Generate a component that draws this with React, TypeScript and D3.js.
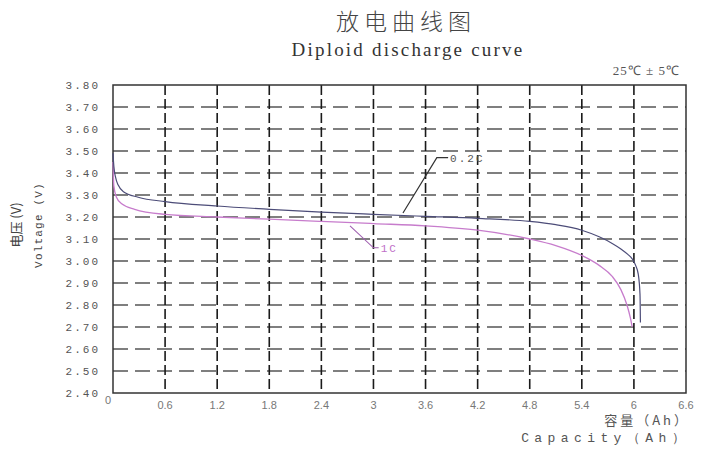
import React, { useEffect, useRef } from 'react';
import * as d3 from 'd3';

// capacity (Ah) / voltage (V)
const cap02 = [0, 0.01, 0.03, 0.06, 0.12, 0.29, 0.6, 1.2, 1.8, 2.4, 3.0, 3.6, 4.2, 4.8, 5.1, 5.4, 5.6, 5.75, 5.85, 5.93, 5.98, 6.02, 6.05, 6.07, 6.075];
const volt02 = [3.49, 3.43, 3.38, 3.345, 3.315, 3.29, 3.27, 3.25, 3.235, 3.222, 3.212, 3.203, 3.194, 3.18, 3.165, 3.14, 3.11, 3.08, 3.055, 3.03, 3.01, 2.98, 2.94, 2.85, 2.72];

const cap1C = [0, 0.01, 0.04, 0.1, 0.25, 0.6, 1.2, 1.8, 2.4, 3.0, 3.6, 4.2, 4.8, 5.1, 5.4, 5.6, 5.75, 5.85, 5.92, 5.96, 5.98];
const volt1C = [3.45, 3.34, 3.29, 3.26, 3.235, 3.212, 3.2, 3.19, 3.18, 3.17, 3.16, 3.14, 3.1, 3.07, 3.025, 2.98, 2.93, 2.87, 2.8, 2.74, 2.7];

const xTicks = [0.6, 1.2, 1.8, 2.4, 3, 3.6, 4.2, 4.8, 5.4, 6, 6.6];
const xTickLabels = ['0.6', '1.2', '1.8', '2.4', '3', '3.6', '4.2', '4.8', '5.4', '6', '6.6'];
const yTicks = [2.4, 2.5, 2.6, 2.7, 2.8, 2.9, 3.0, 3.1, 3.2, 3.3, 3.4, 3.5, 3.6, 3.7, 3.8];

// leader lines for the curve labels, in data units [cap, volt]
const label02 = [[3.34, 3.218], [3.73, 3.47], [3.86, 3.47]];
const label1C = [[2.73, 3.16], [3.0, 3.06], [3.06, 3.06]];

const W = 707;
const H = 450;
const margin = { top: 85, right: 21, bottom: 57, left: 113 };

const C02 = '#4c4c78';
const C1C = '#c77ccc';

export default function App() {
  const svgRef = useRef<SVGSVGElement>(null);

  useEffect(() => {
    if (!svgRef.current) return;
    const svg = d3.select(svgRef.current);
    svg.selectAll('*').remove();

    const x = d3.scaleLinear().domain([0, 6.6]).range([margin.left, W - margin.right]);
    const y = d3.scaleLinear().domain([2.4, 3.8]).range([H - margin.bottom, margin.top]);

    svg.append('rect').attr('width', W).attr('height', H).attr('fill', '#fff');

    // titles
    svg.append('text')
      .attr('x', 406).attr('y', 30)
      .attr('text-anchor', 'middle')
      .attr('font-family', '"Noto Sans CJK SC"')
      .attr('font-size', 23)
      .attr('font-weight', 300)
      .attr('letter-spacing', 5)
      .attr('fill', '#444')
      .text('放电曲线图');
    svg.append('text')
      .attr('x', 408).attr('y', 56)
      .attr('text-anchor', 'middle')
      .attr('font-family', '"Liberation Serif"')
      .attr('font-size', 19)
      .attr('letter-spacing', 2.2)
      .attr('fill', '#333')
      .text('Diploid discharge curve');
    svg.append('text')
      .attr('x', 680).attr('y', 75)
      .attr('text-anchor', 'end')
      .attr('font-family', '"Liberation Serif"')
      .attr('font-size', 13)
      .attr('letter-spacing', 1)
      .attr('fill', '#555')
      .text('25℃ ± 5℃');

    // grid
    svg.append('g')
      .selectAll('line')
      .data(yTicks.slice(1, -1))
      .join('line')
      .attr('x1', x(0)).attr('x2', x(6.6))
      .attr('y1', d => y(d)).attr('y2', d => y(d))
      .attr('stroke', '#555')
      .attr('stroke-width', 1.3)
      .attr('stroke-dasharray', '15,7');

    svg.append('g')
      .selectAll('line')
      .data(xTicks.slice(0, -1))
      .join('line')
      .attr('x1', d => x(d)).attr('x2', d => x(d))
      .attr('y1', y(3.8)).attr('y2', y(2.4))
      .attr('stroke', '#1a1a1a')
      .attr('stroke-width', 1.6)
      .attr('stroke-dasharray', '10,4');

    svg.append('rect')
      .attr('x', x(0)).attr('y', y(3.8))
      .attr('width', x(6.6) - x(0)).attr('height', y(2.4) - y(3.8))
      .attr('fill', 'none')
      .attr('stroke', '#333')
      .attr('stroke-width', 1.5);

    // axis tick labels
    svg.append('g')
      .selectAll('text')
      .data(yTicks)
      .join('text')
      .attr('x', 100)
      .attr('y', d => y(d) + 4)
      .attr('text-anchor', 'end')
      .attr('font-family', '"Liberation Mono"')
      .attr('font-size', 11)
      .attr('letter-spacing', 2)
      .attr('fill', '#555')
      .text(d => d.toFixed(2));

    svg.append('text')
      .attr('x', x(0) - 5).attr('y', 404)
      .attr('text-anchor', 'middle')
      .attr('font-family', '"Liberation Sans"')
      .attr('font-size', 11)
      .attr('fill', '#777')
      .text('0');

    svg.append('g')
      .selectAll('text')
      .data(xTicks)
      .join('text')
      .attr('x', d => x(d))
      .attr('y', 409)
      .attr('text-anchor', 'middle')
      .attr('font-family', '"Liberation Sans"')
      .attr('font-size', 11)
      .attr('fill', '#777')
      .text((d, i) => xTickLabels[i]);

    // axis titles
    svg.append('text')
      .attr('transform', 'translate(21,225) rotate(-90)')
      .attr('text-anchor', 'middle')
      .attr('font-family', '"Noto Sans CJK SC"')
      .attr('font-size', 13)
      .attr('fill', '#444')
      .text('电压 (V)');
    svg.append('text')
      .attr('transform', 'translate(42,225) rotate(-90)')
      .attr('text-anchor', 'middle')
      .attr('font-family', '"Liberation Mono"')
      .attr('font-size', 11)
      .attr('letter-spacing', 1.2)
      .attr('fill', '#444')
      .text('Voltage (V)');

    svg.append('text')
      .attr('x', 690).attr('y', 425)
      .attr('text-anchor', 'end')
      .attr('font-family', '"Noto Sans CJK SC"')
      .attr('font-size', 13)
      .attr('letter-spacing', 3)
      .attr('fill', '#555')
      .text('容量（Ah）');
    svg.append('text')
      .attr('x', 690).attr('y', 442)
      .attr('text-anchor', 'end')
      .attr('font-family', '"Liberation Mono"')
      .attr('font-size', 13)
      .attr('letter-spacing', 5.4)
      .attr('fill', '#555')
      .text('Capacity（Ah）');

    // curves
    const line = d3.line<[number, number]>()
      .x(d => x(d[0]))
      .y(d => y(d[1]))
      .curve(d3.curveMonotoneX);

    const pts1C = cap1C.map((c, i) => [c, volt1C[i]] as [number, number]);
    const pts02 = cap02.map((c, i) => [c, volt02[i]] as [number, number]);

    svg.append('path')
      .attr('d', line(pts1C))
      .attr('fill', 'none')
      .attr('stroke', C1C)
      .attr('stroke-width', 1.3);

    svg.append('path')
      .attr('d', line(pts02))
      .attr('fill', 'none')
      .attr('stroke', C02)
      .attr('stroke-width', 1.2);

    // labels with leaders
    const leader = d3.line<number[]>().x(d => x(d[0])).y(d => y(d[1]));
    svg.append('path')
      .attr('d', leader(label02))
      .attr('fill', 'none')
      .attr('stroke', '#333')
      .attr('stroke-width', 1.2);
    svg.append('text')
      .attr('x', x(label02[2][0]) + 2)
      .attr('y', y(label02[2][1]) + 4)
      .attr('font-family', '"Liberation Mono"')
      .attr('font-size', 11)
      .attr('letter-spacing', 2)
      .attr('fill', '#555')
      .text('0.2C');

    svg.append('path')
      .attr('d', leader(label1C))
      .attr('fill', 'none')
      .attr('stroke', '#a060b0')
      .attr('stroke-width', 1.1);
    svg.append('text')
      .attr('x', x(label1C[2][0]) + 2)
      .attr('y', y(label1C[2][1]) + 4)
      .attr('font-family', '"Liberation Mono"')
      .attr('font-size', 11)
      .attr('letter-spacing', 2)
      .attr('fill', '#c070c8')
      .text('1C');
  }, []);

  return (
    <div style={{ position: 'fixed', left: 0, top: 0 }}>
      <svg ref={svgRef} width={W} height={H} style={{ display: 'block' }} />
    </div>
  );
}
